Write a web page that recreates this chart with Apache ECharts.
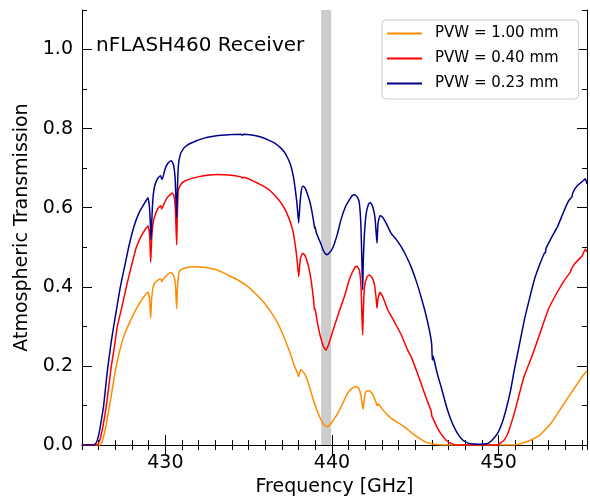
<!DOCTYPE html>
<html>
<head>
<meta charset="utf-8">
<script src="https://cdn.jsdelivr.net/npm/echarts@6/dist/echarts.min.js"></script>
<style>html,body{margin:0;padding:0;background:#fff;}#c{width:590px;height:499px;}</style>
</head>
<body>
<div id="c"></div>
<script>
const seriesNames = ['PVW = 1.00 mm', 'PVW = 0.40 mm', 'PVW = 0.23 mm'];
const xTickLabels = [430, 440, 450];
const yTickLabels = [0, 0.2, 0.4, 0.6, 0.8, 1.0];
const bandRange = [439.35, 439.95];

const pvw100 = [[425,0],[426.1,0],[426.25,0.015],[426.4,0.04],[426.55,0.075],[426.66,0.1],[426.85,0.15],[427.06,0.2],[427.3,0.245],[427.55,0.28],[427.86,0.31],[428.2,0.34],[428.6,0.368],[428.96,0.386],[429.05,0.37],[429.12,0.321],[429.18,0.37],[429.26,0.398],[429.36,0.409],[429.55,0.417],[429.72,0.42],[429.78,0.413],[429.85,0.418],[430.1,0.43],[430.34,0.436],[430.48,0.43],[430.6,0.41],[430.68,0.345],[430.73,0.4],[430.84,0.439],[431.14,0.447],[431.5,0.45],[431.94,0.451],[432.4,0.449],[432.94,0.445],[433.4,0.437],[433.94,0.426],[434.4,0.416],[434.94,0.401],[435.4,0.383],[435.94,0.359],[436.4,0.332],[436.74,0.308],[437.05,0.28],[437.34,0.249],[437.55,0.225],[437.74,0.2],[437.9,0.185],[438.0,0.173],[438.07,0.185],[438.14,0.19],[438.3,0.183],[438.44,0.173],[438.7,0.14],[438.94,0.106],[439.2,0.077],[439.45,0.055],[439.68,0.046],[439.9,0.052],[440.1,0.064],[440.34,0.08],[440.64,0.105],[440.94,0.131],[441.2,0.143],[441.44,0.148],[441.6,0.144],[441.74,0.125],[441.86,0.09],[441.95,0.12],[442.04,0.135],[442.24,0.137],[442.45,0.128],[442.62,0.11],[442.7,0.099],[442.78,0.104],[443.0,0.092],[443.3,0.077],[443.54,0.068],[443.9,0.058],[444.34,0.046],[444.8,0.03],[445.34,0.014],[445.7,0.006],[446.14,0.002],[446.6,0],[450.9,0],[451.34,0.004],[451.8,0.01],[452.34,0.021],[452.7,0.035],[453.14,0.055],[453.54,0.08],[453.94,0.106],[454.34,0.131],[454.74,0.156],[455.05,0.175],[455.3,0.188]];

const pvw040 = [[425,0],[425.9,0],[426.05,0.01],[426.2,0.035],[426.35,0.07],[426.46,0.1],[426.6,0.145],[426.76,0.2],[426.95,0.25],[427.12,0.3],[427.4,0.35],[427.66,0.4],[427.95,0.45],[428.26,0.5],[428.6,0.532],[428.96,0.554],[429.06,0.53],[429.12,0.462],[429.18,0.52],[429.26,0.56],[429.36,0.578],[429.55,0.598],[429.72,0.605],[429.78,0.597],[429.85,0.603],[430.1,0.625],[430.42,0.637],[430.52,0.63],[430.6,0.6],[430.68,0.506],[430.72,0.58],[430.78,0.645],[430.95,0.66],[431.14,0.667],[431.5,0.673],[431.94,0.678],[432.5,0.682],[433.14,0.684],[433.8,0.683],[434.54,0.678],[434.62,0.675],[434.7,0.677],[435.1,0.671],[435.54,0.662],[436.0,0.652],[436.34,0.641],[436.8,0.62],[437.14,0.599],[437.4,0.575],[437.64,0.544],[437.78,0.51],[437.9,0.47],[438.0,0.426],[438.1,0.47],[438.24,0.485],[438.35,0.481],[438.44,0.473],[438.6,0.45],[438.74,0.418],[438.9,0.365],[438.94,0.342],[438.98,0.345],[439.1,0.315],[439.3,0.275],[439.5,0.248],[439.64,0.24],[439.8,0.255],[440.14,0.3],[440.45,0.34],[440.74,0.375],[441.05,0.42],[441.38,0.45],[441.5,0.452],[441.64,0.443],[441.74,0.4],[441.8,0.32],[441.84,0.278],[441.88,0.34],[441.95,0.4],[442.1,0.425],[442.24,0.43],[442.4,0.424],[442.55,0.405],[442.65,0.37],[442.7,0.346],[442.76,0.37],[442.88,0.386],[443.05,0.375],[443.34,0.342],[443.54,0.327],[443.84,0.304],[444.14,0.28],[444.54,0.24],[444.74,0.224],[445.05,0.19],[445.34,0.156],[445.64,0.12],[445.94,0.087],[446.0,0.072],[446.05,0.068],[446.3,0.045],[446.54,0.028],[446.85,0.012],[447.14,0.004],[447.5,0],[449.9,0],[450.1,0.005],[450.34,0.013],[450.6,0.035],[451.0,0.09],[451.5,0.17],[452.0,0.225],[452.5,0.285],[453.0,0.345],[453.5,0.385],[454.0,0.42],[454.3,0.437],[454.36,0.445],[454.6,0.46],[455.0,0.478],[455.2,0.495],[455.3,0.488]];

const pvw023 = [[425,0],[425.7,0],[425.85,0.005],[426.0,0.025],[426.15,0.06],[426.3,0.1],[426.45,0.16],[426.56,0.2],[426.75,0.26],[426.9,0.3],[427.1,0.35],[427.3,0.4],[427.55,0.45],[427.8,0.5],[428.1,0.55],[428.4,0.585],[428.76,0.612],[428.96,0.625],[429.05,0.6],[429.1,0.56],[429.14,0.519],[429.18,0.56],[429.25,0.62],[429.36,0.655],[429.55,0.675],[429.72,0.681],[429.78,0.672],[429.84,0.675],[430.0,0.7],[430.2,0.715],[430.36,0.719],[430.48,0.71],[430.58,0.68],[430.64,0.62],[430.68,0.574],[430.72,0.64],[430.78,0.705],[430.9,0.735],[431.1,0.75],[431.34,0.759],[431.8,0.768],[432.34,0.776],[432.8,0.78],[433.34,0.783],[434.0,0.785],[434.54,0.786],[434.62,0.783],[434.7,0.786],[435.2,0.784],[435.74,0.779],[436.2,0.771],[436.54,0.764],[436.9,0.752],[437.14,0.741],[437.35,0.725],[437.54,0.705],[437.7,0.675],[437.8,0.645],[437.9,0.61],[438.0,0.562],[438.08,0.61],[438.15,0.64],[438.24,0.654],[438.35,0.652],[438.44,0.645],[438.6,0.625],[438.74,0.603],[438.9,0.565],[438.96,0.548],[438.99,0.552],[439.05,0.538],[439.2,0.522],[439.34,0.508],[439.5,0.49],[439.68,0.481],[439.85,0.486],[440.04,0.498],[440.3,0.53],[440.54,0.57],[440.8,0.602],[441.04,0.62],[441.2,0.63],[441.34,0.633],[441.5,0.628],[441.64,0.612],[441.74,0.55],[441.8,0.45],[441.84,0.392],[441.88,0.47],[441.94,0.53],[442.05,0.585],[442.2,0.61],[442.3,0.613],[442.44,0.603],[442.58,0.575],[442.66,0.53],[442.7,0.511],[442.76,0.56],[442.88,0.58],[443.0,0.578],[443.2,0.565],[443.54,0.536],[443.85,0.52],[444.14,0.502],[444.45,0.478],[444.74,0.451],[445.05,0.415],[445.34,0.375],[445.6,0.335],[445.84,0.291],[445.98,0.255],[446.02,0.215],[446.06,0.225],[446.1,0.22],[446.3,0.183],[446.54,0.148],[446.85,0.1],[447.14,0.063],[447.45,0.035],[447.74,0.017],[448.0,0.008],[448.34,0.003],[448.8,0.002],[449.34,0.004],[449.6,0.012],[449.94,0.03],[450.2,0.055],[450.44,0.089],[450.7,0.135],[450.94,0.19],[451.25,0.255],[451.54,0.316],[451.85,0.37],[452.14,0.418],[452.45,0.455],[452.74,0.485],[452.8,0.486],[452.84,0.497],[453.2,0.527],[453.54,0.553],[453.9,0.59],[454.2,0.618],[454.34,0.625],[454.4,0.628],[454.45,0.638],[454.7,0.655],[455.04,0.667],[455.2,0.673],[455.3,0.66]];

const colors = ['#ff8c00', '#ff0000', '#00008b'];
const FONT = 'DejaVu Sans';
const XMIN = 425, XMAX = 455.3, YMIN = 0, YMAX = 1.1;

const chart = echarts.init(document.getElementById('c'), null, {renderer: 'canvas'});

function xAxisDef(pos, major, withLabels) {
  const a = {
    type: 'value', min: XMIN, max: XMAX, position: pos,
    splitLine: {show: false},
    axisLine: {show: major, lineStyle: {color: '#000', width: 1}},
  };
  if (major) {
    a.axisTick = {show: true, inside: true, length: 10, customValues: xTickLabels, lineStyle: {color: '#000', width: 1}};
    a.axisLabel = {show: withLabels, customValues: xTickLabels, fontFamily: FONT, fontSize: 19, color: '#000', margin: 9};
  } else {
    a.interval = 1;
    a.axisTick = {show: true, inside: true, length: 5, lineStyle: {color: '#000', width: 1}};
    a.axisLabel = {show: false};
  }
  if (withLabels) {
    a.name = 'Frequency [GHz]';
    a.nameLocation = 'middle';
    a.nameGap = 33;
    a.nameTextStyle = {fontFamily: FONT, fontSize: 19, color: '#000'};
  }
  return a;
}
function yAxisDef(pos, major, withLabels) {
  const a = {
    type: 'value', min: YMIN, max: YMAX, position: pos,
    splitLine: {show: false},
    axisLine: {show: major, lineStyle: {color: '#000', width: 1}},
  };
  if (major) {
    a.interval = 0.2;
    a.axisTick = {show: true, inside: true, length: 10, customValues: yTickLabels, lineStyle: {color: '#000', width: 1}};
    a.axisLabel = {show: withLabels, customValues: yTickLabels, fontFamily: FONT, fontSize: 19, color: '#000', margin: 9,
      formatter: v => v.toFixed(1)};
  } else {
    a.interval = 0.1;
    a.axisTick = {show: true, inside: true, length: 5, lineStyle: {color: '#000', width: 1}};
    a.axisLabel = {show: false};
  }
  if (withLabels) {
    a.name = 'Atmospheric Transmission';
    a.nameLocation = 'middle';
    a.nameGap = 44;
    a.nameTextStyle = {fontFamily: FONT, fontSize: 19, color: '#000'};
  }
  return a;
}

const dataSets = [pvw100, pvw040, pvw023];
const series = dataSets.map((d, i) => ({
  name: seriesNames[i], type: 'line', data: d,
  xAxisIndex: 0, yAxisIndex: 0,
  showSymbol: false, symbol: 'none', smooth: 0.15,
  lineStyle: {color: colors[i], width: 1.5},
  itemStyle: {color: colors[i]},
  z: 3 + i,
  animation: false
}));
series[0].markArea = {
  silent: true,
  itemStyle: {color: '#cccccc', opacity: 1},
  data: [[{xAxis: bandRange[0]}, {xAxis: bandRange[1]}]]
};

chart.setOption({
  animation: false,
  backgroundColor: '#fff',
  grid: {left: 82, top: 10, width: 505, height: 435, containLabel: false, outerBoundsMode: 'none'},
  title: {
    text: 'nFLASH460 Receiver', left: 96, top: 36, padding: 0,
    textStyle: {fontFamily: FONT, fontSize: 20, fontWeight: 'normal', color: '#000'}
  },
  legend: {
    orient: 'vertical', left: 382, top: 20,
    padding: [6, 20, 8, 5], itemGap: 10, itemWidth: 35, itemHeight: 2,
    icon: 'rect',
    borderColor: '#cccccc', borderWidth: 1, borderRadius: 4,
    backgroundColor: 'rgba(255,255,255,0.8)',
    textStyle: {fontFamily: FONT, fontSize: 15, lineHeight: 15, color: '#000', padding: [0, 0, 0, 8]},
    data: seriesNames
  },
  xAxis: [xAxisDef('bottom', true, true), xAxisDef('bottom', false, false), xAxisDef('top', true, false), xAxisDef('top', false, false)],
  yAxis: [yAxisDef('left', true, true), yAxisDef('left', false, false), yAxisDef('right', true, false), yAxisDef('right', false, false)],
  series: series
});
</script>
</body>
</html>
